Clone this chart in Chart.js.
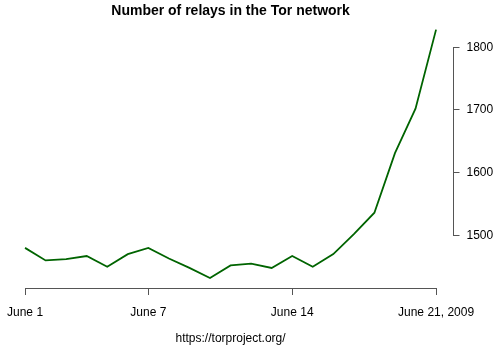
<!DOCTYPE html>
<html>
<head>
<meta charset="utf-8">
<script src="https://cdn.jsdelivr.net/npm/chart.js@4"></script>
<style>
html,body{margin:0;padding:0;background:#fff;}
#wrap{width:500px;height:350px;}
</style>
</head>
<body>
<div id="wrap"><canvas id="c" width="500" height="350"></canvas></div>
<script>
const days = [1,2,3,4,5,6,7,8,9,10,11,12,13,14,15,16,17,18,19,20,21];
const relays = [1480,1460,1462,1467,1450,1470,1480,1463,1448,1432,1452,1455,1448,1467,1450,1470,1502,1536,1631,1702,1828];
const xTickDays = [1,7,14,21];
const xTickLabels = ["June 1","June 7","June 14","June 21, 2009"];
const yTicks = [1500,1600,1700,1800];
const titleText = "Number of relays in the Tor network";
const captionText = "https://torproject.org/";

const FONT = "'Liberation Sans', Arial, Helvetica, sans-serif";

const axisPlugin = {
  id: 'rAxes',
  afterDraw(chart) {
    const ctx = chart.ctx;
    const xs = chart.scales.x, ys = chart.scales.y;
    const ca = chart.chartArea;
    ctx.save();
    ctx.strokeStyle = '#555';
    ctx.lineWidth = 1;
    ctx.beginPath();
    const yb = Math.round(ca.bottom) + 0.5;
    ctx.moveTo(Math.round(xs.getPixelForValue(xTickDays[0])) + 0.5, yb);
    ctx.lineTo(Math.round(xs.getPixelForValue(xTickDays[xTickDays.length-1])) + 0.5, yb);
    const xr = Math.round(ca.right) + 0.5;
    ctx.moveTo(xr, Math.round(ys.getPixelForValue(yTicks[0])) + 0.5);
    ctx.lineTo(xr, Math.round(ys.getPixelForValue(yTicks[yTicks.length-1])) + 0.5);
    ctx.stroke();
    ctx.fillStyle = '#000';
    ctx.textAlign = 'center';
    ctx.textBaseline = 'middle';
    const cx = (ca.left + ca.right) / 2;
    ctx.font = "bold 14px " + FONT;
    ctx.fillText(titleText, cx, 11);
    ctx.font = "12px " + FONT;
    ctx.fillText(captionText, cx, 339);
    ctx.restore();
  }
};

new Chart(document.getElementById('c'), {
  type: 'line',
  data: {
    datasets: [{
      data: days.map((d, i) => ({x: d, y: relays[i]})),
      borderColor: '#006400',
      borderWidth: 1.8,
      pointRadius: 0,
      tension: 0,
      fill: false
    }]
  },
  options: {
    responsive: false,
    animation: false,
    devicePixelRatio: 1,
    layout: {padding: {left: 8.6, top: 19.6, right: 0, bottom: 0}},
    plugins: {legend: {display: false}, title: {display: false}, tooltip: {enabled: false}},
    scales: {
      x: {
        type: 'linear',
        min: 0.2, max: 21.8,
        afterBuildTicks: s => { s.ticks = xTickDays.map(v => ({value: v})); },
        afterFit: s => { s.height = 62; s.paddingLeft = 0; s.paddingRight = 0; },
        ticks: {
          autoSkip: false, maxRotation: 0,
          color: '#000', font: {size: 12, family: FONT}, padding: 10,
          callback: (v) => { const i = xTickDays.indexOf(v); return i >= 0 ? xTickLabels[i] : ''; }
        },
        grid: {display: true, drawOnChartArea: false, drawTicks: true, tickLength: 7, color: '#555'},
        border: {display: false}
      },
      y: {
        type: 'linear',
        position: 'right',
        min: 1416, max: 1844,
        afterBuildTicks: s => { s.ticks = yTicks.map(v => ({value: v})); },
        afterFit: s => { s.width = 47.5; s.paddingTop = 0; s.paddingBottom = 0; },
        ticks: {color: '#000', font: {size: 12, family: FONT}, padding: 7, callback: v => String(v)},
        grid: {display: true, drawOnChartArea: false, drawTicks: true, tickLength: 7, color: '#555'},
        border: {display: false}
      }
    }
  },
  plugins: [axisPlugin]
});
</script>
</body>
</html>
